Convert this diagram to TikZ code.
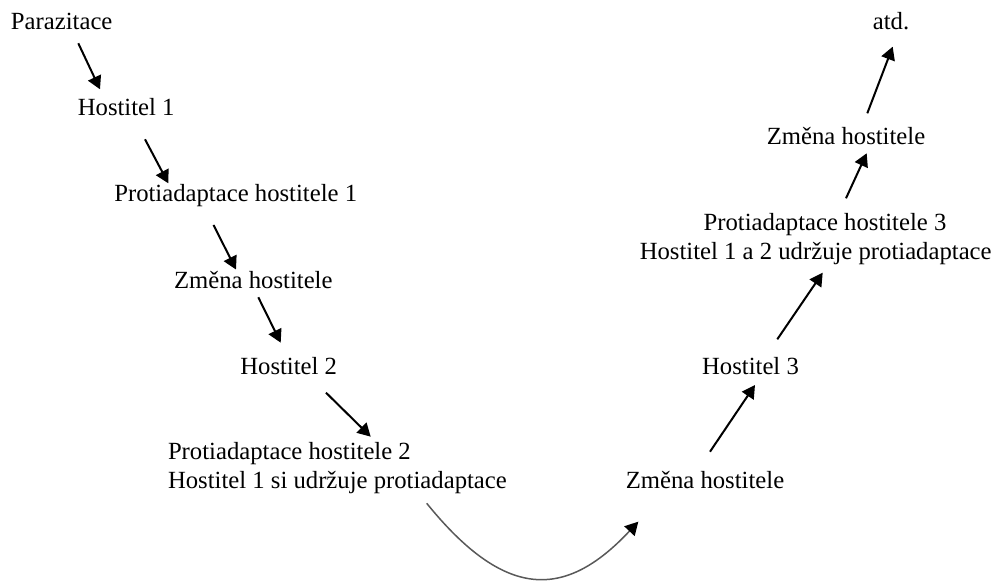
\documentclass[tikz,border=0pt]{standalone}
\usepackage{fontspec}
\setmainfont{Liberation Serif}
\usetikzlibrary{arrows.meta}
\tikzset{
  lbl/.style={inner sep=0pt, outer sep=0pt, font=\fontsize{12.35pt}{14.5pt}\selectfont, anchor=base},
  arr/.style={line width=1pt, -{Triangle[length=6.5pt,width=7pt]}},
  curv/.style={line width=0.75pt, draw=black!65, -{Triangle[length=6.5pt,width=7pt,color=black]}}
}
\begin{document}
\begin{tikzpicture}[x=0.5pt,y=-0.5pt]
\useasboundingbox (0,0) rectangle (998,581);
% left column
\node[lbl] (par) at (61.7,29.5) {Parazitace};
\node[lbl] (h1) at (126.2,115.7) {Hostitel 1};
\node[lbl] (pa1) at (235.7,201.7) {Protiadaptace hostitele 1};
\node[lbl] (zm1) at (253.3,288.3) {Změna hostitele};
\node[lbl] (h2) at (288.7,375) {Hostitel 2};
\node[lbl, anchor=base west, align=left] (pa2) at (168,489) {Protiadaptace hostitele 2\\Hostitel 1 si udržuje protiadaptace};
% right column
\node[lbl] (zm2) at (705,489) {Změna hostitele};
\node[lbl] (h3) at (750.5,375) {Hostitel 3};
\node[lbl, align=center] (pa3) at (815.7,260) {\kern9.3pt Protiadaptace hostitele 3\\Hostitel 1 a 2 udržuje protiadaptace};
\node[lbl] (zm3) at (846,145) {Změna hostitele};
\node[lbl] (atd) at (891,29.3) {atd.};
% connectors
\draw[arr] ([shift={(16.6,13.8)}]par.base) -- ([shift={(-26.2,-26.4)}]h1.base);
\draw[arr] ([shift={(18.8,23.6)}]h1.base) -- ([shift={(-67.4,-18.4)}]pa1.base);
\draw[arr] ([shift={(-22.2,23.3)}]pa1.base) -- ([shift={(-17.3,-18.8)}]zm1.base);
\draw[arr] ([shift={(5,9)}]zm1.base) -- ([shift={(-8,-32.3)}]h2.base);
\draw[arr] ([shift={(37.3,17.7)}]h2.base) -- ([shift={(202.7,-52.3)}]pa2.base west);
\draw[curv] ([shift={(258.7,14.3)}]pa2.base west) .. controls ([shift={(337,111)}]pa2.base west) and ([shift={(-140,111)}]zm2.base) .. ([shift={(-66.7,32.7)}]zm2.base);
\draw[arr] ([shift={(5,-37.3)}]zm2.base) -- ([shift={(4.5,10)}]h3.base);
\draw[arr] ([shift={(26.8,-35.7)}]h3.base) -- ([shift={(7,12.7)}]pa3.base);
\draw[arr] ([shift={(30.3,-61.7)}]pa3.base) -- ([shift={(20.7,8.3)}]zm3.base);
\draw[arr] ([shift={(21.3,-31.7)}]zm3.base) -- ([shift={(1.7,17.4)}]atd.base);
\end{tikzpicture}
\end{document}
